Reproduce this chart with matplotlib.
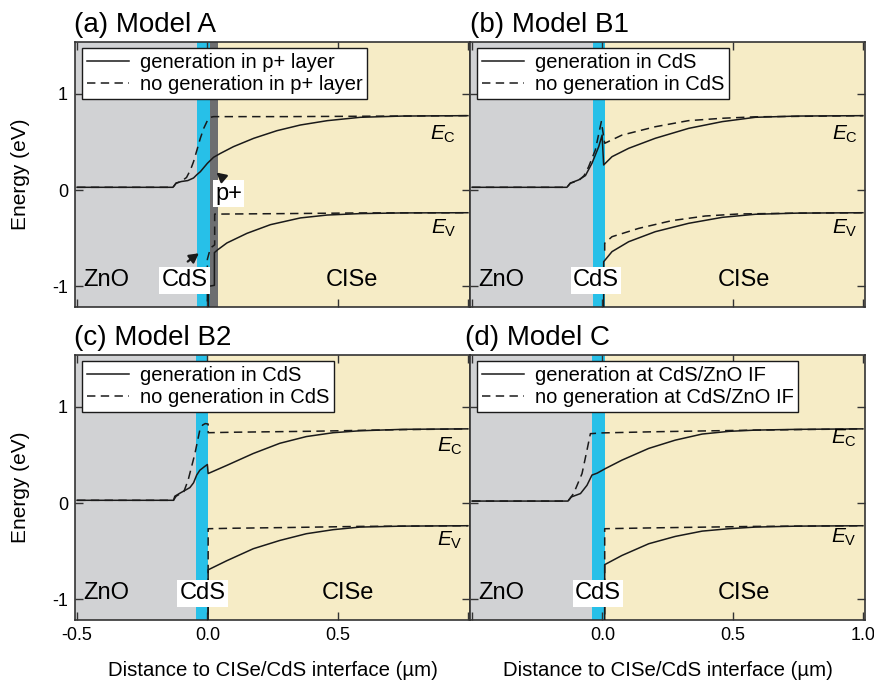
import matplotlib
matplotlib.use("Agg")
import matplotlib.pyplot as plt
import numpy as np

plt.rcParams["font.family"] = ["Liberation Sans", "DejaVu Sans"]
plt.rcParams["mathtext.fontset"] = "custom"
plt.rcParams["mathtext.rm"] = "Liberation Sans"
plt.rcParams["mathtext.it"] = "Liberation Sans:italic"
plt.rcParams["axes.unicode_minus"] = False

# band edges (x in um, E in eV)
A_EC_GEN = [(-0.5, 0.028), (-0.132, 0.028), (-0.12, 0.072), (-0.1, 0.088), (-0.075, 0.098),
            (-0.053, 0.125), (-0.04, 0.16), (-0.027, 0.19), (0.0, 0.277), (0.024, 0.34),
            (0.05, 0.38), (0.1, 0.45), (0.178, 0.537), (0.267, 0.616), (0.357, 0.675),
            (0.46, 0.72), (0.587, 0.755), (0.75, 0.768), (1.0, 0.772)]
A_EC_NOGEN = [(-0.5, 0.028), (-0.132, 0.028), (-0.12, 0.07), (-0.1, 0.09), (-0.08, 0.13),
              (-0.065, 0.208), (-0.053, 0.294), (-0.04, 0.415), (-0.027, 0.537), (-0.014, 0.64),
              (0.0, 0.72), (0.012, 0.755), (0.024, 0.762), (0.3, 0.762), (0.6, 0.766), (1.0, 0.772)]
A_EV_GEN = [(0.005, -1.3), (0.005, -1.0), (0.027, -0.99), (0.027, -0.65), (0.04, -0.62),
            (0.075, -0.55), (0.152, -0.45), (0.242, -0.36), (0.357, -0.29), (0.46, -0.26),
            (0.587, -0.245), (0.75, -0.238), (1.0, -0.236)]
A_EV_NOGEN = [(0.0, -1.3), (0.0, -0.72), (0.008, -0.64), (0.018, -0.59), (0.028, -0.57),
              (0.028, -0.25), (0.045, -0.25), (0.3, -0.245), (0.6, -0.238), (1.0, -0.236)]

B_EC_GEN = [(-0.5, 0.028), (-0.136, 0.028), (-0.123, 0.072), (-0.091, 0.105), (-0.065, 0.15),
            (-0.04, 0.277), (-0.014, 0.45), (-0.001, 0.57), (0.005, 0.26), (0.037, 0.346),
            (0.101, 0.433), (0.203, 0.537), (0.331, 0.64), (0.46, 0.71), (0.587, 0.755),
            (0.75, 0.768), (1.0, 0.772)]
B_EC_NOGEN = [(-0.5, 0.028), (-0.136, 0.028), (-0.123, 0.07), (-0.09, 0.1), (-0.07, 0.15),
              (-0.053, 0.24), (-0.027, 0.415), (-0.004, 0.71), (0.009, 0.485), (0.075, 0.57),
              (0.203, 0.657), (0.33, 0.72), (0.46, 0.745), (0.587, 0.76), (1.0, 0.772)]
B_EV_GEN = [(0.005, -1.3), (0.005, -0.745), (0.037, -0.64), (0.101, -0.537), (0.203, -0.433),
            (0.331, -0.346), (0.46, -0.284), (0.587, -0.252), (0.75, -0.24), (1.0, -0.236)]
B_EV_NOGEN = [(0.009, -0.63), (0.009, -0.553), (0.037, -0.485), (0.14, -0.398), (0.267, -0.318),
              (0.395, -0.27), (0.523, -0.249), (0.75, -0.24), (1.0, -0.236)]

C_EC_GEN = [(-0.5, 0.028), (-0.13, 0.028), (-0.125, 0.07), (-0.104, 0.104), (-0.067, 0.16),
            (-0.053, 0.21), (-0.041, 0.29), (-0.029, 0.34), (-0.01, 0.38), (0.0, 0.4),
            (0.003, 0.306), (0.074, 0.39), (0.176, 0.514), (0.278, 0.62), (0.38, 0.69),
            (0.483, 0.73), (0.585, 0.75), (0.75, 0.765), (1.0, 0.77)]
C_EC_NOGEN = [(-0.5, 0.028), (-0.13, 0.028), (-0.12, 0.07), (-0.09, 0.12), (-0.074, 0.236),
              (-0.048, 0.51), (-0.029, 0.757), (-0.018, 0.81), (-0.008, 0.825), (0.003, 0.82),
              (0.003, 0.73), (0.1, 0.735), (0.4, 0.745), (0.7, 0.76), (1.0, 0.77)]
C_EV_GEN = [(0.003, -1.3), (0.003, -0.694), (0.074, -0.6), (0.176, -0.475), (0.278, -0.389),
            (0.38, -0.319), (0.483, -0.277), (0.585, -0.25), (0.75, -0.24), (1.0, -0.236)]
C_EV_NOGEN = [(0.003, -1.3), (0.003, -0.267), (0.1, -0.262), (0.3, -0.255), (0.585, -0.243),
              (1.0, -0.236)]

D_EC_GEN = [(-0.5, 0.02), (-0.132, 0.02), (-0.119, 0.063), (-0.084, 0.098), (-0.059, 0.184),
            (-0.04, 0.29), (-0.02, 0.31), (0.012, 0.358), (0.075, 0.445), (0.178, 0.567),
            (0.28, 0.653), (0.383, 0.716), (0.485, 0.744), (0.587, 0.757), (0.75, 0.765),
            (1.0, 0.77)]
D_EC_NOGEN = [(-0.5, 0.02), (-0.132, 0.02), (-0.11, 0.1), (-0.078, 0.306), (-0.059, 0.549),
              (-0.046, 0.72), (0.0, 0.728), (0.2, 0.74), (0.587, 0.757), (1.0, 0.77)]
D_EV_GEN = [(0.009, -1.3), (0.009, -0.64), (0.075, -0.545), (0.178, -0.423), (0.28, -0.347),
            (0.383, -0.292), (0.485, -0.267), (0.587, -0.25), (0.75, -0.24), (1.0, -0.236)]
D_EV_NOGEN = [(0.009, -1.3), (0.009, -0.267), (0.2, -0.258), (0.587, -0.243), (1.0, -0.236)]

titles = ["(a) Model A", "(b) Model B1", "(c) Model B2", "(d) Model C"]
legend_gen = ["generation in p+ layer", "generation in CdS", "generation in CdS",
              "generation at CdS/ZnO IF"]
legend_nogen = ["no generation in p+ layer", "no generation in CdS", "no generation in CdS",
                "no generation at CdS/ZnO IF"]
cds_left = [-0.04, -0.037, -0.045, -0.04]
cds_right = [0.009, 0.009, 0.003, 0.009]
pplus_right = 0.04
cds_label_x = [-0.088, -0.024, -0.019, -0.017]
cise_label_x = [0.555, 0.545, 0.54, 0.545]
ec_label = [(0.955, 0.58), (0.98, 0.58), (0.98, 0.59), (0.975, 0.67)]
ev_label = [(0.955, -0.40), (0.98, -0.40), (0.98, -0.39), (0.975, -0.36)]
curves = [(A_EC_GEN, A_EC_NOGEN, A_EV_GEN, A_EV_NOGEN),
          (B_EC_GEN, B_EC_NOGEN, B_EV_GEN, B_EV_NOGEN),
          (C_EC_GEN, C_EC_NOGEN, C_EV_GEN, C_EV_NOGEN),
          (D_EC_GEN, D_EC_NOGEN, D_EV_GEN, D_EV_NOGEN)]

ZNO_COLOR = "#d1d2d4"
CDS_COLOR = "#27c0e8"
CISE_COLOR = "#f6ecc6"
PPLUS_COLOR = "#6d6e70"
LINE_COLOR = "#1a1a1a"
XLIM = (-0.508, 1.008)
YLIM = (-1.215, 1.537)
DASH = (0, (5.5, 3.5))

W, H = 874, 683
fig = plt.figure(figsize=(W / 100, H / 100), dpi=100)
boxes = [(75, 42, 395, 265), (470, 42, 395, 265), (75, 355, 395, 265), (470, 355, 395, 265)]
title_dx = [-0.002, 0.0, -0.002, -0.013]

for i, (bx, by, bw, bh) in enumerate(boxes):
    ax = fig.add_axes([bx / W, 1 - (by + bh) / H, bw / W, bh / H])
    ax.set_xlim(*XLIM)
    ax.set_ylim(*YLIM)

    # layers
    ax.axvspan(XLIM[0], cds_left[i], color=ZNO_COLOR, lw=0, zorder=0)
    ax.axvspan(cds_left[i], cds_right[i], color=CDS_COLOR, lw=0, zorder=0)
    if i == 0:
        ax.axvspan(cds_right[i], pplus_right, color=PPLUS_COLOR, lw=0, zorder=0)
        ax.axvspan(pplus_right, XLIM[1], color=CISE_COLOR, lw=0, zorder=0)
    else:
        ax.axvspan(cds_right[i], XLIM[1], color=CISE_COLOR, lw=0, zorder=0)

    ec_gen, ec_nogen, ev_gen, ev_nogen = [np.array(c).T for c in curves[i]]
    l1, = ax.plot(ec_gen[0], ec_gen[1], color=LINE_COLOR, lw=1.1, zorder=3)
    l2, = ax.plot(ec_nogen[0], ec_nogen[1], color=LINE_COLOR, lw=1.1, ls=DASH, zorder=3)
    ax.plot(ev_gen[0], ev_gen[1], color=LINE_COLOR, lw=1.1, zorder=3)
    ax.plot(ev_nogen[0], ev_nogen[1], color=LINE_COLOR, lw=1.1, ls=DASH, zorder=3)

    leg = ax.legend([l1, l2], [legend_gen[i], legend_nogen[i]], loc="upper left",
                    bbox_to_anchor=(0.018, 0.976), borderaxespad=0, fontsize=14.5,
                    handlelength=2.1, handletextpad=0.5, labelspacing=0.15,
                    borderpad=0.25, fancybox=False, framealpha=1, edgecolor=LINE_COLOR)
    leg.get_frame().set_linewidth(1.0)

    # layer labels
    ax.text(-0.475, -1.0, "ZnO", fontsize=17, va="baseline", ha="left", zorder=4)
    ax.text(cds_label_x[i], -1.0, "CdS", fontsize=17, va="baseline", ha="center", zorder=4,
            bbox=dict(boxstyle="square,pad=0.1", fc="white", ec="none"))
    ax.text(cise_label_x[i], -1.0, "CISe", fontsize=17, va="baseline", ha="center", zorder=4)
    ax.text(ec_label[i][0], ec_label[i][1], r"$E_\mathrm{C}$", fontsize=15,
            ha="right", va="center", zorder=4)
    ax.text(ev_label[i][0], ev_label[i][1], r"$E_\mathrm{V}$", fontsize=15,
            ha="right", va="center", zorder=4)

    if i == 0:
        ax.text(0.03, -0.1, "p+", fontsize=17, va="baseline", ha="left", zorder=4,
                bbox=dict(boxstyle="square,pad=0.1", fc="white", ec="none"))
        ax.annotate("", xy=(0.027, 0.2), xytext=(0.069, 0.104), zorder=5,
                    arrowprops=dict(arrowstyle="-|>,head_length=0.55,head_width=0.3",
                                    color=LINE_COLOR, lw=1.6))
        ax.annotate("", xy=(-0.024, -0.64), xytext=(-0.084, -0.76), zorder=5,
                    arrowprops=dict(arrowstyle="-|>,head_length=0.55,head_width=0.3",
                                    color=LINE_COLOR, lw=1.6))

    ax.text(title_dx[i], 1.039, titles[i], transform=ax.transAxes, fontsize=20,
            ha="left", va="baseline")

    # axes styling
    for sp in ax.spines.values():
        sp.set_linewidth(1.2)
        sp.set_color("#333333")
    ax.set_xticks([-0.5, 0.0, 0.5, 1.0])
    ax.set_yticks([-1, 0, 1])
    ax.tick_params(direction="in", top=True, right=True, length=5.5, width=1.0,
                   color="#333333", labelsize=13, pad=5)
    if i < 2:
        ax.set_xticklabels([])
    elif i == 2:
        ax.set_xticklabels(["-0.5", "0.0", "0.5", ""])
        ax.set_xlabel("Distance to CISe/CdS interface (µm)", fontsize=14.7, labelpad=12)
    else:
        ax.set_xticklabels(["", "0.0", "0.5", "1.0"])
        ax.set_xlabel("Distance to CISe/CdS interface (µm)", fontsize=14.7, labelpad=12)
    if i % 2 == 0:
        ax.set_yticklabels(["-1", "0", "1"])
        ax.set_ylabel("Energy (eV)", fontsize=15, labelpad=16)
    else:
        ax.set_yticklabels([])

fig.savefig("out.png", dpi=100)
